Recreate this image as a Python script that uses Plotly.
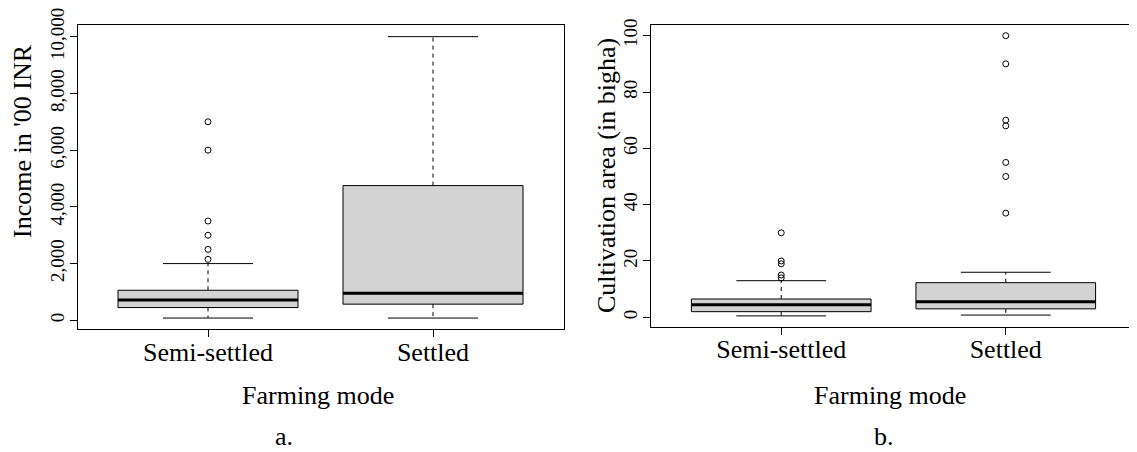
import plotly.graph_objects as go

# ---------------- data ----------------
categories = ["Semi-settled", "Settled"]

# Panel a: income ('00 INR)
inc_low = [80, 80]
inc_q1 = [450, 570]
inc_med = [720, 950]
inc_q3 = [1060, 4750]
inc_high = [2000, 10000]
inc_out = [[2150, 2500, 3000, 3500, 6000, 7000], []]
inc_ticks = [0, 2000, 4000, 6000, 8000, 10000]
inc_ticktext = ["0", "2,000", "4,000", "6,000", "8,000", "10,000"]

# Panel b: cultivation area (bigha)
area_low = [0.5, 0.8]
area_q1 = [2, 3]
area_med = [4.5, 5.5]
area_q3 = [6.5, 12.3]
area_high = [13, 16]
area_out = [[14, 15, 19, 20, 30], [37, 50, 55, 68, 70, 90, 100]]
area_ticks = [0, 20, 40, 60, 80, 100]
area_ticktext = ["0", "20", "40", "60", "80", "100"]

# ---------------- style ----------------
FONT = "Liberation Serif"
BOXW = 0.8
CAPW = 0.4
# page body has an 8px margin; size the figure to the visible part
OFF = 8
W, H = 1137 - OFF, 452 - OFF


def px(x):
    return (x - OFF) / W


def py(y):
    return (H - (y - OFF)) / H


fig = go.Figure()


def add_panel(xa, ya, low, q1, med, q3, high, outs):
    pos = [i + 1 for i in range(len(categories))]
    fig.add_trace(go.Box(
        x=pos, q1=q1, median=med, q3=q3, lowerfence=q1, upperfence=q3,
        width=BOXW, whiskerwidth=0, fillcolor="#d3d3d3",
        line=dict(color="black", width=1), boxpoints=False,
        xaxis=xa, yaxis=ya, showlegend=False, hoverinfo="skip"))
    wx, wy, cx, cy, mx, my, ox, oy = [], [], [], [], [], [], [], []
    for p, lo, a, m, b, hi, o in zip(pos, low, q1, med, q3, high, outs):
        wx += [p, p, None, p, p, None]
        wy += [a, lo, None, b, hi, None]
        cx += [p - CAPW / 2, p + CAPW / 2, None, p - CAPW / 2, p + CAPW / 2, None]
        cy += [lo, lo, None, hi, hi, None]
        mx += [p - BOXW / 2, p + BOXW / 2, None]
        my += [m, m, None]
        ox += [p] * len(o)
        oy += list(o)
    fig.add_trace(go.Scatter(x=wx, y=wy, mode="lines", line=dict(color="black", width=1, dash="4px,4px"),
                             xaxis=xa, yaxis=ya, showlegend=False, hoverinfo="skip"))
    fig.add_trace(go.Scatter(x=cx, y=cy, mode="lines", line=dict(color="black", width=1),
                             xaxis=xa, yaxis=ya, showlegend=False, hoverinfo="skip"))
    fig.add_trace(go.Scatter(x=mx, y=my, mode="lines", line=dict(color="black", width=3),
                             xaxis=xa, yaxis=ya, showlegend=False, hoverinfo="skip"))
    fig.add_trace(go.Scatter(x=ox, y=oy, mode="markers",
                             marker=dict(symbol="circle-open", size=6, color="black", line=dict(width=1)),
                             xaxis=xa, yaxis=ya, showlegend=False, hoverinfo="skip"))


add_panel("x", "y", inc_low, inc_q1, inc_med, inc_q3, inc_high, inc_out)
add_panel("x2", "y2", area_low, area_q1, area_med, area_q3, area_high, area_out)


def yr(vals_lo, vals_hi):
    lo = min(vals_lo)
    hi = max(vals_hi)
    d = (hi - lo) * 0.04
    return [lo - d, hi + d]


inc_all_hi = [max(inc_high)] + [max(o) for o in inc_out if o]
area_all_hi = [max(area_high)] + [max(o) for o in area_out if o]

xaxis_common = dict(
    range=[0.42, 2.58], tickmode="array", tickvals=[1, 2], ticktext=categories,
    ticks="outside", ticklen=7, tickcolor="black", showline=True, mirror=True,
    linecolor="black", linewidth=1, showgrid=False, zeroline=False,
    tickfont=dict(family=FONT, size=26, color="black"), automargin=False,
    ticklabelstandoff=-8,
)
yaxis_common = dict(
    ticks="outside", ticklen=7, tickcolor="black", showline=True, mirror=True,
    linecolor="black", linewidth=1, showgrid=False, zeroline=False, tickangle=-90,
    tickfont=dict(family=FONT, size=19, color="black"), automargin=False,
    ticklabelstandoff=-2, ticklabeloverflow="allow",
)

fig.update_layout(
    width=W, height=H,
    margin=dict(l=0, r=0, t=0, b=0),
    paper_bgcolor="white", plot_bgcolor="white",
    xaxis=dict(domain=[px(77.5), px(563.5)], **xaxis_common),
    xaxis2=dict(domain=[px(651), px(1136)], anchor="y2", **xaxis_common),
    yaxis=dict(domain=[py(329.3), py(25.4)], range=yr(inc_low, inc_all_hi),
               tickmode="array", tickvals=inc_ticks, ticktext=inc_ticktext, **yaxis_common),
    yaxis2=dict(domain=[py(327.1), py(24.5)], range=yr(area_low, area_all_hi),
                tickmode="array", tickvals=area_ticks, ticktext=area_ticktext, anchor="x2",
                **yaxis_common),
)

ann_font = dict(family=FONT, size=26, color="black")
annotations = [
    dict(text="Income in '00 INR", x=px(22), y=py(141), textangle=-90, yanchor="middle"),
    dict(text="Cultivation area (in bigha)", x=px(606), y=py(176), textangle=-90, yanchor="middle"),
    dict(text="Farming mode", x=px(318), y=py(395), yanchor="middle"),
    dict(text="Farming mode", x=px(890), y=py(395), yanchor="middle"),
    dict(text="a.", x=px(284), y=0, yanchor="bottom"),
    dict(text="b.", x=px(884), y=0, yanchor="bottom"),
]
for a in annotations:
    fig.add_annotation(xref="paper", yref="paper", showarrow=False, font=ann_font,
                       xanchor="center", borderpad=0, **a)

fig.write_html("out.html")
